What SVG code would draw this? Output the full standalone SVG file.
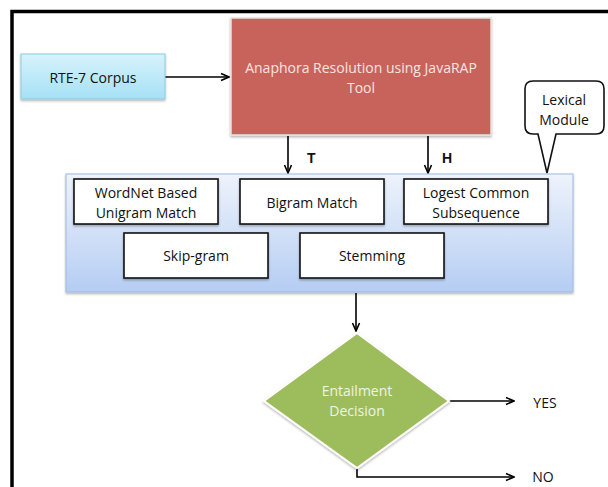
<svg xmlns="http://www.w3.org/2000/svg" width="608" height="487" viewBox="0 0 608 487">
<defs>
<linearGradient id="gCyan" x1="0" y1="0" x2="0" y2="1">
<stop offset="0" stop-color="#d6f3fc"/><stop offset="1" stop-color="#a6e0f5"/>
</linearGradient>
<linearGradient id="gBlue" x1="0" y1="0" x2="0" y2="1">
<stop offset="0" stop-color="#eef3fc"/><stop offset="1" stop-color="#b5cdf3"/>
</linearGradient>
<filter id="sh" x="-10%" y="-10%" width="120%" height="130%">
<feDropShadow dx="0" dy="1.5" stdDeviation="1.2" flood-color="#000" flood-opacity="0.3"/>
</filter>
<marker id="arr" viewBox="0 0 10 10" refX="9" refY="5" markerWidth="10" markerHeight="10" markerUnits="userSpaceOnUse" orient="auto">
<path d="M1,1.5 L9,5 L1,8.5" fill="none" stroke="#000" stroke-width="1.6"/>
</marker>
<style>
.t{font-family:"Open Sans","DejaVu Sans",sans-serif;font-size:14px;text-anchor:middle;fill:#111}
.box{fill:#fff;stroke:#111;stroke-width:1.6}
.ln{fill:none;stroke:#000;stroke-width:1.6}
.lbl{font-family:"Liberation Sans",Arial,sans-serif;font-size:14px;font-weight:bold;fill:#111}
</style>
</defs>
<rect x="12" y="11.5" width="700" height="600" fill="none" stroke="#000" stroke-width="3.5"/>

<g id="connectors">
<line class="ln" x1="165" y1="77" x2="229" y2="77" marker-end="url(#arr)"/>
<line class="ln" x1="288" y1="136" x2="288" y2="173" marker-end="url(#arr)"/>
<line class="ln" x1="428" y1="136" x2="428" y2="173" marker-end="url(#arr)"/>
<line class="ln" x1="356" y1="293" x2="356" y2="331" marker-end="url(#arr)"/>
<line class="ln" x1="449" y1="401" x2="514" y2="401" marker-end="url(#arr)"/>
<polyline class="ln" points="357,468 357,477 514,477" marker-end="url(#arr)"/>
<text class="lbl" x="307" y="163">T</text>
<text class="lbl" x="442" y="163">H</text>
</g>

<g id="rte">
<rect x="21" y="54" width="144" height="45" fill="url(#gCyan)" stroke="#8ccbe0" stroke-width="1" filter="url(#sh)"/>
<text class="t" x="93" y="83">RTE-7 Corpus</text>
</g>

<g id="anaphora">
<rect x="231" y="18" width="260" height="117" fill="#c8635b" stroke="#e3e3e3" stroke-width="1.5" filter="url(#sh)"/>
<text class="t" x="361" y="73" style="fill:#f7e3e1">Anaphora Resolution using JavaRAP</text>
<text class="t" x="361" y="93" style="fill:#f7e3e1">Tool</text>
</g>

<g id="lexical-callout">
<path d="M533,81 H596 Q604,81 604,89 V126 Q604,134 596,134 H556 L547,173 L538,134 H533 Q525,134 525,126 V89 Q525,81 533,81 Z" fill="#fff" stroke="#111" stroke-width="1.6"/>
<text class="t" x="564" y="105">Lexical</text>
<text class="t" x="564" y="125">Module</text>
</g>

<g id="lexical-module">
<rect x="66" y="174" width="507" height="118" fill="url(#gBlue)" stroke="#9fb8e0" stroke-width="1" filter="url(#sh)"/>
</g>

<g id="wordnet">
<rect class="box" x="74" y="179" width="144" height="45" filter="url(#sh)"/>
<text class="t" x="146" y="198">WordNet Based</text>
<text class="t" x="146" y="218">Unigram Match</text>
</g>
<g id="bigram">
<rect class="box" x="240" y="179" width="144" height="45" filter="url(#sh)"/>
<text class="t" x="312" y="208">Bigram Match</text>
</g>
<g id="lcs">
<rect class="box" x="404" y="179" width="144" height="45" filter="url(#sh)"/>
<text class="t" x="476" y="198">Logest Common</text>
<text class="t" x="476" y="218">Subsequence</text>
</g>
<g id="skipgram">
<rect class="box" x="124" y="233" width="144" height="45" filter="url(#sh)"/>
<text class="t" x="196" y="261">Skip-gram</text>
</g>
<g id="stemming">
<rect class="box" x="300" y="233" width="144" height="45" filter="url(#sh)"/>
<text class="t" x="372" y="261">Stemming</text>
</g>

<g id="decision">
<polygon points="357,333 449,401 357,468 264,401" fill="#9dbd5c" stroke="#fff" stroke-width="2" filter="url(#sh)"/>
<text class="t" x="357" y="396" style="fill:#eef4e4">Entailment</text>
<text class="t" x="357" y="416" style="fill:#eef4e4">Decision</text>
</g>

<g id="outcomes">
<text class="t" x="545" y="408">YES</text>
<text class="t" x="543" y="482">NO</text>
</g>
</svg>
